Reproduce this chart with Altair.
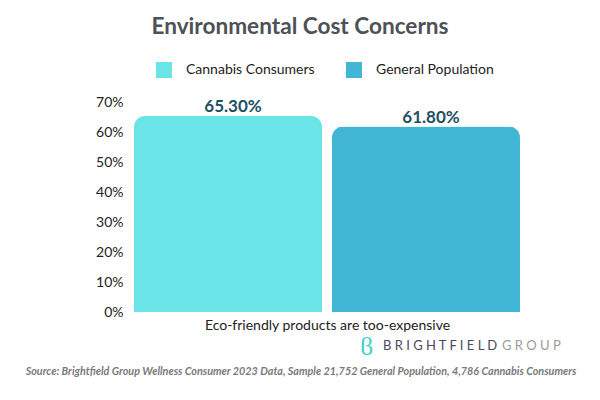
import altair as alt
import pandas as pd

series = ["Cannabis Consumers", "General Population"]
values = [65.3, 61.8]
value_labels = ["65.30%", "61.80%"]
colors = ["#6be4e8", "#42b7d5"]
category = "Eco-friendly products are too-expensive"
y_ticks = [0, 10, 20, 30, 40, 50, 60, 70]
title_text = "Environmental Cost Concerns"
source_text = ("Source: Brightfield Group Wellness Consumer 2023 Data, Sample 21,752 "
               "General Population, 4,786 Cannabis Consumers")

df = pd.DataFrame({"series": series, "value": values, "label": value_labels})

FONT = "Lato"

x_enc = alt.X(
    "series:N",
    sort=series,
    scale=alt.Scale(paddingInner=0.0505, paddingOuter=0),
    axis=alt.Axis(labels=False, ticks=False, domain=False, title=category,
                  titleFont=FONT, titleFontSize=14, titleFontWeight="normal",
                  titleColor="#222222", titlePadding=6),
)
y_enc = alt.Y(
    "value:Q",
    scale=alt.Scale(domain=[0, 70], nice=False),
    axis=alt.Axis(values=y_ticks, labelExpr="datum.value + '%'", ticks=False,
                  domain=False, grid=False, title=None, labelFont=FONT,
                  labelFontSize=14, labelColor="#222222", labelPadding=11,
                  labelOverlap=False),
)

bars = alt.Chart(df).mark_bar(cornerRadiusTopLeft=11, cornerRadiusTopRight=11).encode(
    x=x_enc,
    y=y_enc,
    color=alt.Color(
        "series:N",
        sort=series,
        scale=alt.Scale(domain=series, range=colors),
        legend=alt.Legend(
            title=None, orient="none", direction="horizontal",
            legendX=22, legendY=-40, symbolType="square", symbolSize=256,
            symbolStrokeWidth=0, labelFont=FONT, labelFontSize=14,
            labelColor="#222222", labelOffset=14, columnPadding=31,
        ),
    ),
)

labels = alt.Chart(df).mark_text(
    font=FONT, fontSize=17, fontWeight="bold", color="#1e4f63",
    baseline="alphabetic", dy=-4, dx=5,
).encode(x=x_enc, y=y_enc, text="label:N")

title_df = pd.DataFrame({"t": [title_text]})
title = alt.Chart(title_df).mark_text(
    font=FONT, fontSize=22.6, fontWeight="bold", color="#4d5257",
    align="center", baseline="alphabetic",
).encode(x=alt.value(166), y=alt.value(-68), text="t:N")

source_df = pd.DataFrame({"t": [source_text]})
source = alt.Chart(source_df).mark_text(
    font=FONT, fontSize=10.8, fontStyle="italic", fontWeight="bold",
    color="#7a7a7a", align="center", baseline="middle",
).encode(x=alt.value(167), y=alt.value(270), text="t:N")

logo_icon_df = pd.DataFrame({"t": ["ϐ"]})
logo_icon = alt.Chart(logo_icon_df).mark_text(
    font="DejaVu Sans", fontSize=26, fontWeight=200, color="#3fd0c4",
    align="left", baseline="middle",
).encode(x=alt.value(226), y=alt.value(245), text="t:N")

logo1_df = pd.DataFrame({"t": ["B R I G H T F I E L D"]})
logo1 = alt.Chart(logo1_df).mark_text(
    font=FONT, fontSize=13, color="#4a4960", align="left", baseline="middle",
).encode(x=alt.value(249), y=alt.value(244), text="t:N")

logo2_df = pd.DataFrame({"t": ["G R O U P"]})
logo2 = alt.Chart(logo2_df).mark_text(
    font=FONT, fontSize=13, color="#9b9b9b", align="left", baseline="middle",
).encode(x=alt.value(368), y=alt.value(244), text="t:N")

chart = alt.layer(bars, labels, title, source, logo_icon, logo1, logo2).properties(
    width=386, height=210,
    autosize=alt.AutoSizeParams(type="none"),
    padding={"left": 126, "top": 94, "right": 72, "bottom": 80},
).configure_view(strokeWidth=0, stroke=None)

chart.save("out.html", embed_options={"renderer": "svg", "actions": False})
